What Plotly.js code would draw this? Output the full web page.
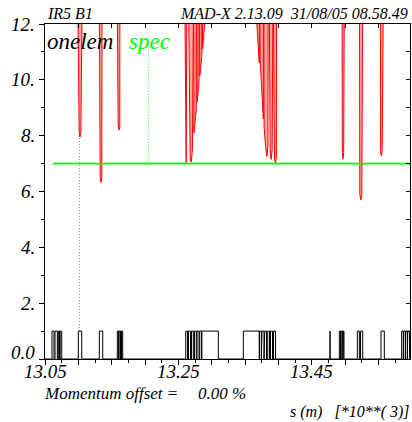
<!DOCTYPE html>
<html>
<head>
<meta charset="utf-8">
<script src="https://cdn.plot.ly/plotly-3.0.1.min.js"></script>
<style>html,body{margin:0;padding:0;background:#fff;}#chart{width:412px;height:422px;}</style>
</head>
<body>
<div id="chart"></div>
<script>
// ---- data (s in km = m*10^-3) ----
// red "onelem" curve: off-scale samples are given as 30
const onelemS = [13.05,
  13.0992,13.0995,13.1013,13.1025,13.1037,13.1055,13.1058,
  13.13145,13.1316,13.1328,13.134,13.1352,13.1364,13.13655,
  13.15845,13.1586,13.1598,13.161,13.1622,13.16265,13.1628,
  13.2597,13.26,13.2618,13.2636,13.2639,13.2654,13.2657,13.2678,13.26945,13.2711,
  13.27245,13.27275,13.27305,13.27335,13.27695,13.27725,13.27755,13.27785,13.27815,13.281,
  13.2813,13.2816,13.2819,13.2822,13.2852,13.2855,13.2858,13.2861,13.2864,13.29,13.2903,
  13.36725,13.36755,13.37145,13.3719,13.3722,13.3725,13.3728,13.37745,13.37775,13.37805,
  13.37835,13.37865,13.38075,13.3827,13.38435,13.3854,13.3857,13.3863,13.3866,13.3878,
  13.3893,13.3908,13.3917,13.392,13.39245,13.39275,13.39425,13.39575,13.3971,13.3977,13.398,
  13.4949,13.4952,13.49595,13.497,13.49805,13.4988,13.4991,
  13.52085,13.52115,13.5222,13.5237,13.5252,13.5264,13.5267,
  13.55235,13.55265,13.5534,13.55445,13.5558,13.5573,13.5576,
  13.5975];
const onelemV = [30,
  30,12.1,8.1,7.95,8.1,12.1,30,
  30,12.1,6.5,6.32,6.45,12.1,30,
  30,12.1,8.35,8.2,8.3,12.1,30,
  30,12.1,7.0,12.1,30,30,12.1,7.1,7.05,7.5,
  12.1,30,12.1,8.1,8.93,12.1,30,12.1,9.2,9.86,
  12.1,30,12.1,10.14,10.83,12.1,30,12.1,11.1,12.1,30,
  30,12.1,10.6,12.1,30,12.1,10.7,8.6,12.1,30,
  12.1,8.3,7.65,7.25,7.6,12.1,30,30,12.1,7.4,
  7.15,7.5,12.1,30,30,12.1,7.2,7.0,7.3,12.1,30,
  30,12.1,7.4,7.16,7.4,12.1,30,
  30,12.1,5.9,5.7,5.85,12.1,30,
  30,12.1,7.4,7.28,7.5,12.1,30,
  30];

// green "spec" level
const specS = [13.062, 13.5975];
const specV = [7, 7];

// dotted marker lines
const greyMarkS = [13.1018, 13.1018];
const greyMarkV = [1, 12];
const greenMarkS = [13.205, 13.205];
const greenMarkV = [7, 11.3];

// machine elements (boxes of height 1)
const elemStart = [13.0605,13.065,13.07,13.0728,13.1,13.1315,
  13.1585,13.1609,13.1633,13.1651,
  13.2611,13.2652,13.2698,13.2743,13.278,13.2821,13.2851,
  13.3475,13.3715,13.3755,13.3796,13.3841,13.3883,13.3928,
  13.4775,13.4915,13.4937,13.496,13.4975,13.5185,13.5233,13.554,
  13.585,13.5881,13.5911,13.5941];
const elemEnd = [13.0635,13.0685,13.0718,13.0751,13.1051,13.1366,
  13.1604,13.1628,13.1648,13.1666,
  13.2637,13.2683,13.2725,13.277,13.281,13.2851,13.31,
  13.3715,13.3745,13.3785,13.3823,13.3868,13.3913,13.3958,
  13.4776,13.4933,13.4955,13.497,13.4985,13.5215,13.5266,13.559,
  13.5875,13.5905,13.5935,13.5968];
const elemHeight = 1;

// axis labels
const xLabelVals = [13.05, 13.25, 13.45];
const xLabelText = ["13.05", "13.25", "13.45"];
const yLabelVals = [0, 2, 4, 6, 8, 10, 12];
const yLabelText = ["0.0", "2.", "4.", "6.", "8.", "10.", "12."];

const xRange = [13.05, 13.5975];
const yRange = [0, 12];

// ---- build ----
const elX = [xRange[0]], elY = [0];
for (let i = 0; i < elemStart.length; i++) {
  elX.push(elemStart[i], elemStart[i], elemEnd[i], elemEnd[i]);
  elY.push(0, elemHeight, elemHeight, 0);
}
elX.push(xRange[1]); elY.push(0);

const FONT = "Liberation Serif, Times New Roman, serif";
const it = s => '<i>' + s + '</i>';

const traces = [
  {x: greyMarkS, y: greyMarkV, mode: 'lines', line: {color: '#909090', width: 1, dash: '1px,2px'}, hoverinfo: 'skip'},
  {x: greenMarkS, y: greenMarkV, mode: 'lines', line: {color: '#00ff00', width: 1, dash: '1px,2px'}, hoverinfo: 'skip'},
  {x: onelemS, y: onelemV, mode: 'lines', fill: 'toself', fillcolor: 'rgba(255,130,130,0.7)',
   line: {color: '#ff0000', width: 1}, hoverinfo: 'skip'},
  {x: specS, y: specV, mode: 'lines', line: {color: '#00ff00', width: 1.6}, hoverinfo: 'skip'},
  {x: elX, y: elY, mode: 'lines', line: {color: '#000000', width: 1}, hoverinfo: 'skip'},
  {x: [13.3], y: [-5], mode: 'markers', marker: {size: 1, opacity: 0}, xaxis: 'x2', yaxis: 'y2', hoverinfo: 'skip'}
];

const annotations = [];
xLabelVals.forEach((v, i) => annotations.push({
  x: v, y: 0, xref: 'x', yref: 'y', text: it(xLabelText[i]), showarrow: false,
  xanchor: 'center', yanchor: 'top', yshift: 0,
  font: {family: FONT, size: 19, color: '#000'}
}));
yLabelVals.forEach((v, i) => annotations.push({
  x: 0, y: v, xref: 'paper', yref: 'y', text: it(yLabelText[i]), showarrow: false,
  xanchor: 'right', yanchor: 'middle', xshift: -8, yshift: v === 0 ? 7 : 0,
  font: {family: FONT, size: 19, color: '#000'}
}));
annotations.push(
  {x: 0, y: 1, xref: 'paper', yref: 'paper', text: it('IR5 B1'), showarrow: false,
   xanchor: 'left', yanchor: 'bottom', yshift: 0,
   font: {family: FONT, size: 16, color: '#000'}},
  {x: 1, y: 1, xref: 'paper', yref: 'paper', text: it('MAD-X 2.13.09  31/08/05 08.58.49'), showarrow: false,
   xanchor: 'right', yanchor: 'bottom', yshift: 0,
   font: {family: FONT, size: 16, color: '#000'}},
  {x: 0, y: 1, xref: 'paper', yref: 'paper', text: it('onelem'), showarrow: false,
   xanchor: 'left', yanchor: 'top', xshift: 0, yshift: -3,
   font: {family: FONT, size: 23, color: '#000'}},
  {x: 0, y: 1, xref: 'paper', yref: 'paper', text: it('spec'), showarrow: false,
   xanchor: 'left', yanchor: 'top', xshift: 82, yshift: -3,
   font: {family: FONT, size: 23, color: '#00ff00'}},
  {x: 0, y: 0, xref: 'paper', yref: 'paper', text: it('Momentum offset ='), showarrow: false,
   xanchor: 'left', yanchor: 'top', xshift: -3, yshift: -23,
   font: {family: FONT, size: 17, color: '#000'}},
  {x: 0, y: 0, xref: 'paper', yref: 'paper', text: it('0.00 %'), showarrow: false,
   xanchor: 'right', yanchor: 'top', xshift: 203, yshift: -23,
   font: {family: FONT, size: 17, color: '#000'}},
  {x: 1, y: 0, xref: 'paper', yref: 'paper', text: it('s (m)   [*10**( 3)]'), showarrow: false,
   xanchor: 'right', yanchor: 'top', xshift: 2, yshift: -42,
   font: {family: FONT, size: 16, color: '#000'}}
);

const layout = {
  width: 412, height: 422,
  margin: {l: 45, r: 2, t: 24, b: 63, pad: 0},
  paper_bgcolor: '#ffffff', plot_bgcolor: '#ffffff',
  showlegend: false,
  xaxis: {range: xRange, autorange: false, showgrid: false, zeroline: false,
    showline: true, linecolor: '#000', linewidth: 1,
    tickmode: 'linear', tick0: 13.05, dtick: 0.05, ticks: 'outside', ticklen: 5, tickcolor: '#000',
    minor: {tick0: 13.05, dtick: 0.025, ticks: 'outside', ticklen: 3, tickcolor: '#000', showgrid: false},
    showticklabels: false},
  yaxis: {range: yRange, autorange: false, showgrid: false, zeroline: false,
    showline: true, linecolor: '#000', linewidth: 1,
    tickmode: 'linear', tick0: 0, dtick: 2, ticks: 'outside', ticklen: 5, tickcolor: '#000',
    minor: {tick0: 0, dtick: 1, ticks: 'outside', ticklen: 3, tickcolor: '#000', showgrid: false},
    showticklabels: false},
  xaxis2: {range: xRange, autorange: false, overlaying: 'x', side: 'top', anchor: 'y',
    showgrid: false, zeroline: false, showline: true, linecolor: '#000', linewidth: 1,
    tickmode: 'linear', tick0: 13.05, dtick: 0.05, ticks: 'inside', ticklen: 4, tickcolor: '#000',
    showticklabels: false},
  yaxis2: {range: yRange, autorange: false, overlaying: 'y', side: 'right', anchor: 'x',
    showgrid: false, zeroline: false, showline: true, linecolor: '#000', linewidth: 1,
    tickmode: 'linear', tick0: 0, dtick: 1, ticks: 'inside', ticklen: 4, tickcolor: '#000',
    showticklabels: false},
  annotations: annotations
};

Plotly.newPlot('chart', traces, layout, {staticPlot: true, displayModeBar: false});
</script>
</body>
</html>
